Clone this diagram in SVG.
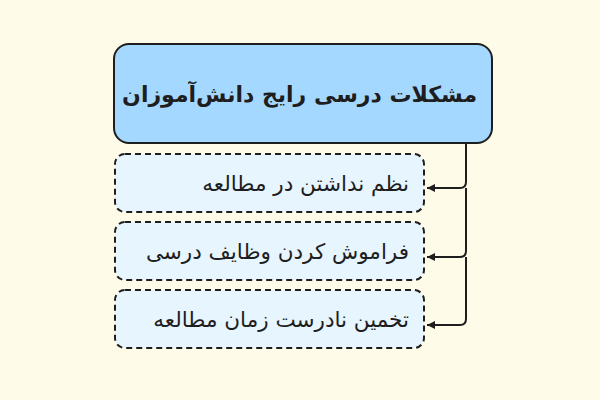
<svg xmlns="http://www.w3.org/2000/svg" width="600" height="400" viewBox="0 0 600 400">
<defs>
<style>
.main{fill:#a5d8ff;stroke:#1e1e1e;stroke-width:2}
.child{fill:#e7f5ff;stroke:#1e1e1e;stroke-width:2;stroke-dasharray:6 4}
.t{font-family:"DejaVu Sans",sans-serif;fill:#1e1e1e;direction:rtl}
.title{font-size:22px;font-weight:bold}
.lbl{font-size:21.5px}
.conn{fill:none;stroke:#1e1e1e;stroke-width:2}
</style>
<marker id="ah" markerWidth="10" markerHeight="10" refX="8" refY="5" orient="auto" markerUnits="userSpaceOnUse">
<path d="M0,1 L8,5 L0,9 Z" fill="#1e1e1e"/>
</marker>
</defs>
<rect width="600" height="400" fill="#fefce8"/>
<g id="main">
<rect class="main" x="114" y="44" width="378" height="99" rx="15"/>
<text class="t title" x="477" y="102" direction="rtl" text-anchor="start">مشکلات درسی رایج دانش‌آموزان</text>
</g>
<g id="n1">
<rect class="child" x="115" y="154" width="309" height="58" rx="10"/>
<text class="t lbl" x="409" y="191" direction="rtl" text-anchor="start">نظم نداشتن در مطالعه</text>
</g>
<g id="n2">
<rect class="child" x="115" y="222" width="309" height="58" rx="10"/>
<text class="t lbl" x="409" y="259" direction="rtl" text-anchor="start">فراموش کردن وظایف درسی</text>
</g>
<g id="n3">
<rect class="child" x="115" y="290" width="309" height="58" rx="10"/>
<text class="t lbl" x="409" y="327" direction="rtl" text-anchor="start">تخمین نادرست زمان مطالعه</text>
</g>
<g id="connectors">
<path class="conn" d="M466,143 V182 Q466,188 460,188 H427" marker-end="url(#ah)"/>
<path class="conn" d="M466,188 V251 Q466,257 460,257 H427" marker-end="url(#ah)"/>
<path class="conn" d="M466,257 V319 Q466,325 460,325 H427" marker-end="url(#ah)"/>
</g>
</svg>
